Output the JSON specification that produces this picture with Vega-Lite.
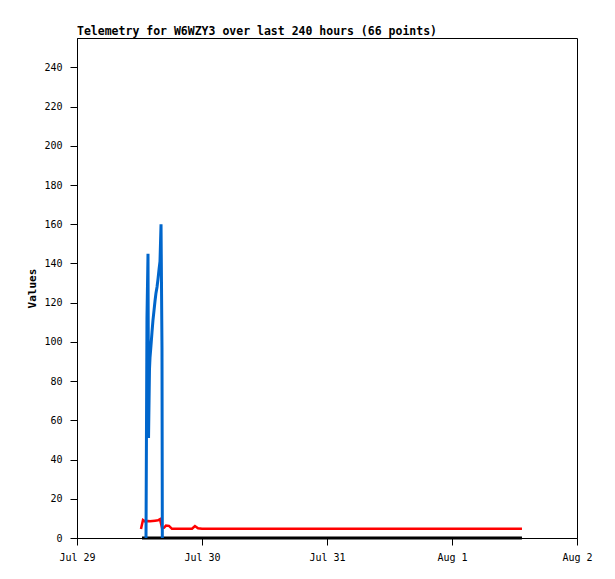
{
  "$schema": "https://vega.github.io/schema/vega-lite/v6.json",
  "width": 500,
  "height": 500,
  "autosize": {"type": "none"},
  "padding": {"left": 77, "top": 38, "right": 38, "bottom": 41},
  "background": "white",
  "config": {
    "view": {"stroke": "#000", "strokeWidth": 1},
    "font": "DejaVu Sans Mono",
    "axis": {"grid": false, "domainColor": "#000", "tickColor": "#000", "labelColor": "#000", "titleColor": "#000", "labelFont": "DejaVu Sans Mono", "titleFont": "DejaVu Sans Mono", "labelFontSize": 10, "tickSize": 7}
  },
  "title": {"text": "Telemetry for W6WZY3 over last 240 hours (66 points)", "anchor": "start", "frame": "group", "font": "DejaVu Sans Mono", "fontSize": 11.5, "fontWeight": "bold", "color": "#000", "offset": 1},
  "data": {"values": [
    {"t": "2024-07-29T13:15:00Z", "v": 0, "s": "blue"},
    {"t": "2024-07-29T13:26:00Z", "v": 112, "s": "blue"},
    {"t": "2024-07-29T13:38:00Z", "v": 145, "s": "blue"},
    {"t": "2024-07-29T13:44:00Z", "v": 51, "s": "blue"},
    {"t": "2024-07-29T13:55:00Z", "v": 86, "s": "blue"},
    {"t": "2024-07-29T14:01:00Z", "v": 92, "s": "blue"},
    {"t": "2024-07-29T14:12:00Z", "v": 98, "s": "blue"},
    {"t": "2024-07-29T14:24:00Z", "v": 105, "s": "blue"},
    {"t": "2024-07-29T14:35:00Z", "v": 111, "s": "blue"},
    {"t": "2024-07-29T14:47:00Z", "v": 116, "s": "blue"},
    {"t": "2024-07-29T14:59:00Z", "v": 121, "s": "blue"},
    {"t": "2024-07-29T15:10:00Z", "v": 125, "s": "blue"},
    {"t": "2024-07-29T15:22:00Z", "v": 128, "s": "blue"},
    {"t": "2024-07-29T15:33:00Z", "v": 132, "s": "blue"},
    {"t": "2024-07-29T15:45:00Z", "v": 137, "s": "blue"},
    {"t": "2024-07-29T15:56:00Z", "v": 141, "s": "blue"},
    {"t": "2024-07-29T16:08:00Z", "v": 160, "s": "blue"},
    {"t": "2024-07-29T16:19:00Z", "v": 97, "s": "blue"},
    {"t": "2024-07-29T16:23:00Z", "v": 0, "s": "blue"},
    {"t": "2024-07-29T12:17:00Z", "v": 4.6, "s": "red"},
    {"t": "2024-07-29T12:40:00Z", "v": 9.2, "s": "red"},
    {"t": "2024-07-29T13:03:00Z", "v": 8.5, "s": "red"},
    {"t": "2024-07-29T13:38:00Z", "v": 8.7, "s": "red"},
    {"t": "2024-07-29T14:01:00Z", "v": 8.5, "s": "red"},
    {"t": "2024-07-29T14:59:00Z", "v": 8.8, "s": "red"},
    {"t": "2024-07-29T15:33:00Z", "v": 9.0, "s": "red"},
    {"t": "2024-07-29T15:56:00Z", "v": 9.6, "s": "red"},
    {"t": "2024-07-29T16:19:00Z", "v": 5.3, "s": "red"},
    {"t": "2024-07-29T16:42:00Z", "v": 5.2, "s": "red"},
    {"t": "2024-07-29T17:05:00Z", "v": 6.3, "s": "red"},
    {"t": "2024-07-29T17:40:00Z", "v": 6.2, "s": "red"},
    {"t": "2024-07-29T18:14:00Z", "v": 4.7, "s": "red"},
    {"t": "2024-07-29T22:05:00Z", "v": 4.7, "s": "red"},
    {"t": "2024-07-29T22:39:00Z", "v": 6.1, "s": "red"},
    {"t": "2024-07-29T23:14:00Z", "v": 5.0, "s": "red"},
    {"t": "2024-07-30T00:00:00Z", "v": 4.7, "s": "red"},
    {"t": "2024-07-30T12:00:00Z", "v": 4.7, "s": "red"},
    {"t": "2024-07-31T00:00:00Z", "v": 4.7, "s": "red"},
    {"t": "2024-07-31T12:00:00Z", "v": 4.7, "s": "red"},
    {"t": "2024-08-01T00:00:00Z", "v": 4.7, "s": "red"},
    {"t": "2024-08-01T13:26:00Z", "v": 4.7, "s": "red"},
    {"t": "2024-07-29T12:29:00Z", "v": 0, "s": "black"},
    {"t": "2024-07-30T00:00:00Z", "v": 0, "s": "black"},
    {"t": "2024-07-31T00:00:00Z", "v": 0, "s": "black"},
    {"t": "2024-08-01T00:00:00Z", "v": 0, "s": "black"},
    {"t": "2024-08-01T13:26:00Z", "v": 0, "s": "black"}
  ]},
  "encoding": {
    "x": {"field": "t", "type": "temporal", "scale": {"type": "utc", "domain": [{"year": 2024, "month": "jul", "date": 29, "utc": true}, {"year": 2024, "month": "aug", "date": 2, "utc": true}], "nice": false},
      "axis": {"title": null, "values": [{"year": 2024, "month": "jul", "date": 29, "utc": true}, {"year": 2024, "month": "jul", "date": 30, "utc": true}, {"year": 2024, "month": "jul", "date": 31, "utc": true}, {"year": 2024, "month": "aug", "date": 1, "utc": true}, {"year": 2024, "month": "aug", "date": 2, "utc": true}], "labelExpr": "utcFormat(datum.value, '%b %-d')", "labelPadding": 7, "labelFlush": false, "labelOverlap": false}},
    "y": {"field": "v", "type": "quantitative", "scale": {"domain": [0, 255], "nice": false, "zero": true},
      "axis": {"title": "Values", "titleFontWeight": "bold", "titleFontSize": 11, "values": [0, 20, 40, 60, 80, 100, 120, 140, 160, 180, 200, 220, 240], "labelPadding": 8, "titlePadding": 6}}
  },
  "layer": [
    {"transform": [{"filter": "datum.s === 'red'"}], "mark": {"type": "line", "color": "#ff0000", "strokeWidth": 2.5, "interpolate": "linear"}},
    {"transform": [{"filter": "datum.s === 'black'"}], "mark": {"type": "line", "color": "#000000", "strokeWidth": 3}},
    {"transform": [{"filter": "datum.s === 'blue'"}], "mark": {"type": "line", "color": "#0066cc", "strokeWidth": 3}}
  ]
}
